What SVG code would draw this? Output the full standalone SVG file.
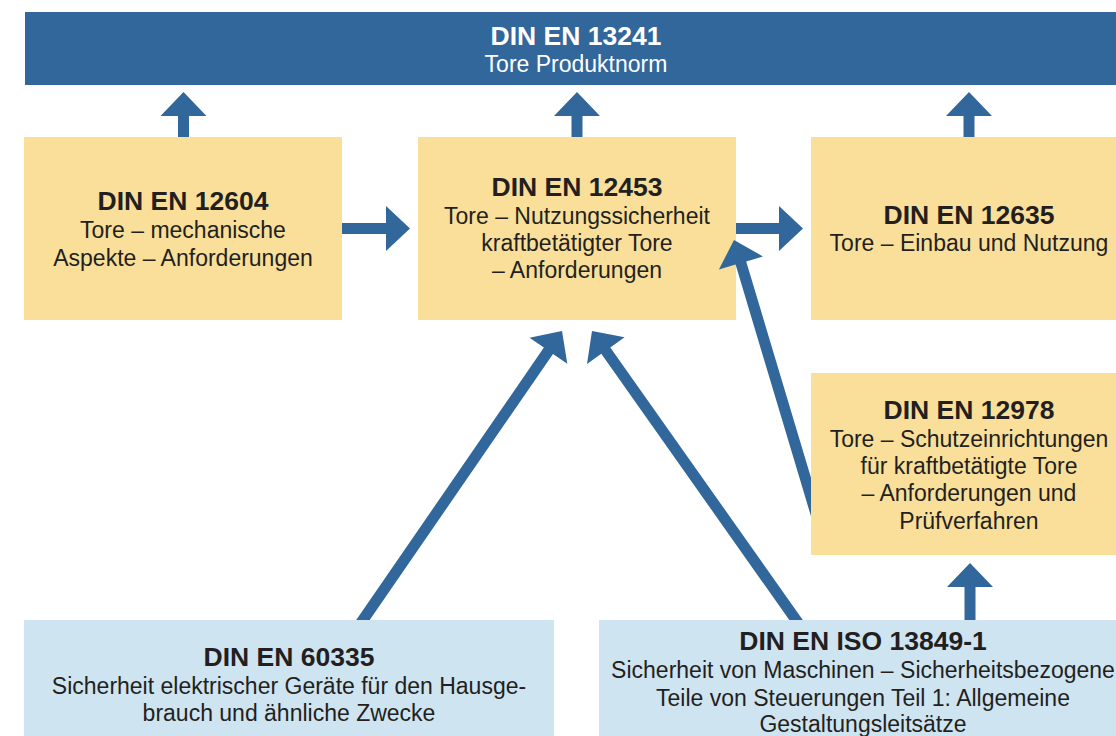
<svg xmlns="http://www.w3.org/2000/svg" width="1116" height="736" viewBox="0 0 1116 736">
<style>
.y{fill:#F9DF9A}
.b{fill:#CFE4F1}
.top{fill:#31679A}
.arr{fill:#31679A}
text{font-family:"Liberation Sans",Arial,sans-serif;text-anchor:middle;fill:#231F20}
.h{font-weight:bold;font-size:26.5px}
.t{font-size:23px}
.w{fill:#FFFFFF}
</style>
<rect width="1116" height="736" fill="#FFFFFF"/>
<g id="n13241">
<rect class="top" x="25" y="12" width="1100" height="73"/>
<text class="h w" x="576" y="45">DIN EN 13241</text>
<text class="t w" x="576" y="72">Tore Produktnorm</text>
</g>
<g id="n12604">
<rect class="y" x="24" y="137" width="318" height="183"/>
<text class="h" x="183" y="210">DIN EN 12604</text>
<text class="t" x="183" y="238">Tore – mechanische</text>
<text class="t" x="183" y="266">Aspekte – Anforderungen</text>
</g>
<g id="n12453">
<rect class="y" x="418" y="137" width="318" height="183"/>
<text class="h" x="577" y="196">DIN EN 12453</text>
<text class="t" x="577" y="224">Tore – Nutzungssicherheit</text>
<text class="t" x="577" y="251">kraftbetätigter Tore</text>
<text class="t" x="577" y="278">– Anforderungen</text>
</g>
<g id="n12635">
<rect class="y" x="811" y="137" width="316" height="183"/>
<text class="h" x="969" y="224">DIN EN 12635</text>
<text class="t" x="969" y="251">Tore – Einbau und Nutzung</text>
</g>
<g id="n12978">
<rect class="y" x="811" y="373" width="316" height="182"/>
<text class="h" x="969" y="419">DIN EN 12978</text>
<text class="t" x="969" y="447">Tore – Schutzeinrichtungen</text>
<text class="t" x="969" y="474">für kraftbetätigte Tore</text>
<text class="t" x="969" y="501">– Anforderungen und</text>
<text class="t" x="969" y="529">Prüfverfahren</text>
</g>
<g id="n60335">
<rect class="b" x="24" y="620" width="530" height="130"/>
<text class="h" x="289" y="666">DIN EN 60335</text>
<text class="t" x="289" y="694">Sicherheit elektrischer Geräte für den Hausge-</text>
<text class="t" x="289" y="721">brauch und ähnliche Zwecke</text>
</g>
<g id="n13849">
<rect class="b" x="599" y="620" width="530" height="130"/>
<text class="h" x="863" y="650">DIN EN ISO 13849-1</text>
<text class="t" x="863" y="678">Sicherheit von Maschinen – Sicherheitsbezogene</text>
<text class="t" x="863" y="706">Teile von Steuerungen Teil 1: Allgemeine</text>
<text class="t" x="863" y="732">Gestaltungsleitsätze</text>
</g>
<g id="connectors">
<polygon class="arr" points="183.5,92 206.5,116 189,116 189,137 178,137 178,116 160.5,116"/>
<polygon class="arr" points="577,92 600,116 582.5,116 582.5,137 571.5,137 571.5,116 554,116"/>
<polygon class="arr" points="969,92 992,116 974.5,116 974.5,137 963.5,137 963.5,116 946,116"/>
<polygon class="arr" points="970,563 993,587 975.5,587 975.5,620 964.5,620 964.5,587 947,587"/>
<polygon class="arr" points="410,228.5 386,206 386,223 342,223 342,234 386,234 386,251"/>
<polygon class="arr" points="803,228.5 779,206 779,223 736,223 736,234 779,234 779,251"/>
<polygon class="arr" points="562,331 567.3,363.8 553.0,353.9 369.7,620 356.2,620 543.9,347.6 529.5,337.7"/>
<polygon class="arr" points="592,331 624.6,337.3 610.3,347.4 802.8,620 789.3,620 601.3,353.8 587.0,363.9"/>
<polygon class="arr" points="734,240 762.9,256.4 746.2,261.4 811,477.7 811,516.3 735.6,264.6 718.9,269.6"/>
</g>
</svg>
